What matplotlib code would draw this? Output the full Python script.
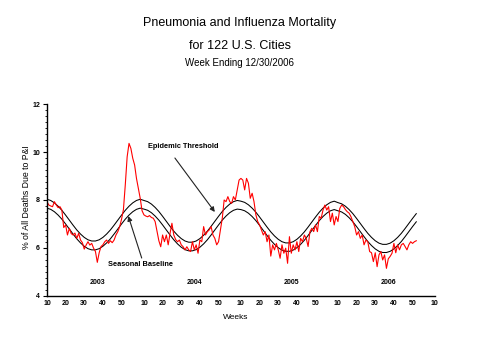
import matplotlib
matplotlib.use('Agg')
import matplotlib.pyplot as plt
import numpy as np

# % of all deaths due to P&I, one value per week from week 10 of 2003
pi_percent = [
    7.93, 7.79, 7.75, 7.72, 7.93, 7.79, 7.68, 7.72, 7.58, 6.85,
    6.96, 6.54, 6.82, 6.60, 6.54, 6.62, 6.40, 6.61, 6.33, 6.22,
    5.95, 6.12, 6.26, 6.12, 6.19, 5.99, 5.85, 5.40, 5.80, 6.06,
    6.13, 6.26, 6.33, 6.19, 6.30, 6.22, 6.33, 6.54, 6.68, 6.89,
    7.20, 7.60, 8.63, 9.80, 10.36, 10.15, 9.74, 9.46, 8.90, 8.49,
    8.07, 7.55, 7.38, 7.33, 7.30, 7.35, 7.27, 7.24, 7.10, 6.70,
    6.30, 6.05, 6.54, 6.26, 6.54, 6.13, 6.61, 7.03, 6.54, 6.35,
    6.26, 6.33, 6.13, 6.05, 5.92, 6.05, 5.92, 5.85, 6.26, 5.92,
    6.13, 5.78, 6.33, 6.26, 6.89, 6.54, 6.68, 6.75, 6.89, 6.54,
    6.40, 6.13, 6.26, 6.75, 7.24, 8.00, 7.93, 8.14, 7.93, 7.86,
    8.14, 8.00, 8.42, 8.83, 8.90, 8.83, 8.42, 8.90, 8.70, 8.07,
    8.28, 7.93, 7.38, 7.10, 6.96, 6.75, 6.54, 6.68, 6.26, 6.54,
    5.66, 6.13, 5.92, 6.19, 5.92, 5.57, 6.13, 5.78, 5.99, 5.36,
    6.47, 5.78, 6.13, 5.92, 6.26, 5.85, 6.40, 6.26, 6.54, 6.40,
    6.06, 6.68, 6.82, 6.68, 6.96, 6.68, 7.31, 7.24, 7.58, 7.79,
    7.58, 7.72, 7.10, 7.45, 6.96, 7.31, 7.10, 7.65, 7.79, 7.72,
    7.60, 7.51, 7.45, 7.30, 7.10, 6.89, 6.54, 6.68, 6.40, 6.54,
    6.13, 6.33, 6.26, 5.85, 5.80, 5.43, 5.80, 5.22, 5.71, 5.85,
    5.50, 5.71, 5.15, 5.55, 5.65, 5.78, 6.19, 5.80, 6.13, 5.92,
    6.13, 6.19, 6.06, 5.92, 6.13, 6.26, 6.19, 6.26, 6.30,
]

# seasonal baseline and epidemic threshold, read every 2 weeks
baseline = [
    7.66, 7.61, 7.51, 7.37, 7.20, 7.00, 6.79, 6.58, 6.38, 6.21, 6.07, 5.97, 5.92,
    5.92, 5.97, 6.07, 6.21, 6.38, 6.58, 6.79, 7.00, 7.20, 7.37, 7.51, 7.61, 7.66,
    7.62, 7.57, 7.47, 7.33, 7.16, 6.96, 6.75, 6.54, 6.34, 6.17, 6.03, 5.93, 5.88,
    5.88, 5.93, 6.03, 6.17, 6.34, 6.54, 6.75, 6.96, 7.16, 7.33, 7.47, 7.57, 7.62,
    7.60, 7.55, 7.45, 7.31, 7.14, 6.94, 6.73, 6.52, 6.32, 6.15, 6.01, 5.91, 5.86,
    5.86, 5.91, 6.01, 6.15, 6.32, 6.52, 6.73, 6.94, 7.14, 7.31, 7.45, 7.55, 7.60,
    7.55, 7.50, 7.40, 7.26, 7.09, 6.89, 6.68, 6.47, 6.27, 6.10, 5.96, 5.86, 5.81,
    5.81, 5.86, 5.96, 6.10, 6.27, 6.47, 6.68, 6.89, 7.09,
]
threshold = [
    8.03, 7.98, 7.88, 7.74, 7.57, 7.37, 7.16, 6.95, 6.75, 6.58, 6.44, 6.34, 6.29,
    6.29, 6.34, 6.44, 6.58, 6.75, 6.95, 7.16, 7.37, 7.57, 7.74, 7.88, 7.98, 8.03,
    7.98, 7.93, 7.83, 7.69, 7.52, 7.32, 7.11, 6.90, 6.70, 6.53, 6.39, 6.29, 6.24,
    6.24, 6.29, 6.39, 6.53, 6.70, 6.90, 7.11, 7.32, 7.52, 7.69, 7.83, 7.93, 7.98,
    7.95, 7.90, 7.80, 7.66, 7.49, 7.29, 7.08, 6.87, 6.67, 6.50, 6.36, 6.26, 6.21,
    6.21, 6.26, 6.36, 6.50, 6.67, 6.87, 7.08, 7.29, 7.49, 7.66, 7.80, 7.90, 7.95,
    7.89, 7.84, 7.74, 7.60, 7.43, 7.23, 7.02, 6.81, 6.61, 6.44, 6.30, 6.20, 6.15,
    6.15, 6.20, 6.30, 6.44, 6.61, 6.81, 7.02, 7.23, 7.43,
]

years = ['2003', '2004', '2005', '2006']
week_labels = ['10', '20', '30', '40', '50'] * 4 + ['10']
y_ticks = [4, 6, 8, 10, 12]

plt.rcParams['font.family'] = ['Liberation Sans', 'DejaVu Sans']

fig = plt.figure(figsize=(4.79, 3.6), dpi=100)
ax = fig.add_axes([0.098, 0.178, 0.810, 0.533])

weeks = np.arange(len(pi_percent))
curve_weeks = np.arange(len(baseline)) * 2
ax.plot(curve_weeks, threshold, color='black', lw=0.75)
ax.plot(curve_weeks, baseline, color='black', lw=0.75)
ax.plot(weeks, pi_percent, color='#ff0000', lw=0.8)

ax.set_xlim(0, 208)
ax.set_ylim(4, 12)
tick_pos = [52 * (i // 5) + 10 * (i % 5) for i in range(len(week_labels))]
ax.set_xticks(tick_pos)
ax.set_xticklabels(week_labels, fontsize=5, fontweight='bold')
ax.set_yticks(y_ticks)
ax.set_yticklabels([str(v) for v in y_ticks], fontsize=5, fontweight='bold')
ax.set_yticks(np.arange(4, 12.01, 0.25), minor=True)
ax.tick_params(axis='x', length=0, pad=3)
ax.tick_params(axis='y', which='major', length=3, width=0.8, pad=2)
ax.tick_params(axis='y', which='minor', length=1.5, width=0.6)
for side in ['top', 'right']:
    ax.spines[side].set_visible(False)
for side in ['left', 'bottom']:
    ax.spines[side].set_linewidth(1.0)

for k, year in enumerate(years):
    ax.text(52 * k + 27, 4.58, year, ha='center', va='center',
            fontsize=5, fontweight='bold')

ax.text(54, 10.21, 'Epidemic Threshold', ha='left', va='center',
        fontsize=5.3, fontweight='bold')
ax.annotate('', xy=(90, 7.5), xytext=(68.6, 9.75),
            arrowprops=dict(arrowstyle='-|>', color='#222222', lw=0.8,
                            mutation_scale=7, shrinkA=0, shrinkB=0))
ax.text(50, 5.33, 'Seasonal Baseline', ha='center', va='center',
        fontsize=5.3, fontweight='bold')
ax.annotate('', xy=(43.6, 7.33), xytext=(50.8, 5.58),
            arrowprops=dict(arrowstyle='-|>', color='#222222', lw=0.8,
                            mutation_scale=7, shrinkA=0, shrinkB=0))

fig.text(0.501, 0.936, 'Pneumonia and Influenza Mortality', ha='center',
         va='center', fontsize=9)
fig.text(0.501, 0.873, 'for 122 U.S. Cities', ha='center', va='center',
         fontsize=9)
fig.text(0.501, 0.825, 'Week Ending 12/30/2006', ha='center', va='center',
         fontsize=7)
fig.text(0.055, 0.453, '% of All Deaths Due to P&I', ha='center',
         va='center', rotation=90, fontsize=6.3)
fig.text(0.493, 0.117, 'Weeks', ha='center', va='center', fontsize=6)

fig.savefig('out.png', dpi=100)
